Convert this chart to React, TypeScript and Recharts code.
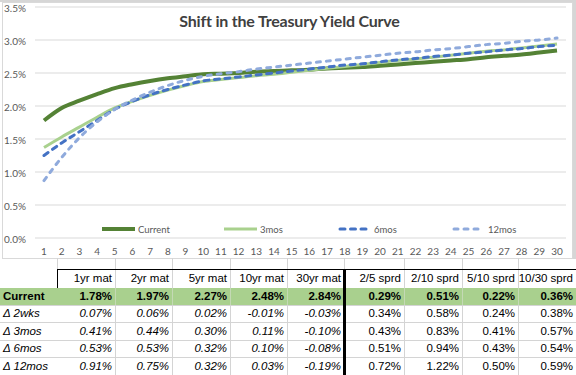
import { LineChart, Line, XAxis, YAxis, CartesianGrid } from "recharts"

// maturity in years
const years = [1, 2, 3, 4, 5, 6, 7, 8, 9, 10, 11, 12, 13, 14, 15, 16, 17, 18, 19, 20, 21, 22, 23, 24, 25, 26, 27, 28, 29, 30]

const current = [1.78, 1.97, 2.08, 2.18, 2.27, 2.33, 2.38, 2.42, 2.45, 2.48, 2.49, 2.5, 2.52, 2.53, 2.54, 2.55, 2.57, 2.58, 2.59, 2.61, 2.63, 2.65, 2.67, 2.69, 2.71, 2.74, 2.76, 2.78, 2.81, 2.84]
const mos3 = [1.37, 1.53, 1.68, 1.83, 1.97, 2.07, 2.16, 2.24, 2.31, 2.37, 2.4, 2.43, 2.46, 2.48, 2.51, 2.54, 2.57, 2.6, 2.63, 2.66, 2.69, 2.71, 2.74, 2.77, 2.8, 2.83, 2.85, 2.88, 2.91, 2.94]
const mos6 = [1.25, 1.44, 1.61, 1.78, 1.95, 2.07, 2.17, 2.25, 2.32, 2.38, 2.41, 2.44, 2.47, 2.5, 2.53, 2.56, 2.59, 2.62, 2.64, 2.67, 2.7, 2.72, 2.75, 2.77, 2.8, 2.82, 2.85, 2.87, 2.9, 2.92]
const mos12 = [0.87, 1.22, 1.52, 1.76, 1.95, 2.09, 2.21, 2.31, 2.39, 2.45, 2.49, 2.52, 2.56, 2.59, 2.62, 2.65, 2.68, 2.71, 2.74, 2.77, 2.8, 2.82, 2.85, 2.87, 2.9, 2.93, 2.95, 2.98, 3.0, 3.03]

const yTicks = [0, 0.5, 1, 1.5, 2, 2.5, 3, 3.5]

const series = [
  { key: "current", name: "Current", color: "#548235", width: 4, dash: undefined as string | undefined, cap: "butt" },
  { key: "mos3", name: "3mos", color: "#a9d18e", width: 3, dash: undefined as string | undefined, cap: "butt" },
  { key: "mos6", name: "6mos", color: "#4472c4", width: 3, dash: "5 5.5", cap: "round" },
  { key: "mos12", name: "12mos", color: "#8faadc", width: 3, dash: "4 6", cap: "round" },
]

// table below the chart
const tableHeaders = ["", "1yr mat", "2yr mat", "5yr mat", "10yr mat", "30yr mat", "2/5 sprd", "2/10 sprd", "5/10 sprd", "10/30 sprd"]
const rowLabels = ["Current", "Δ 2wks", "Δ 3mos", "Δ 6mos", "Δ 12mos"]
const currentVals = ["1.78%", "1.97%", "2.27%", "2.48%", "2.84%", "0.29%", "0.51%", "0.22%", "0.36%"]
const wks2Vals = ["0.07%", "0.06%", "0.02%", "-0.01%", "-0.03%", "0.34%", "0.58%", "0.24%", "0.38%"]
const mos3Vals = ["0.41%", "0.44%", "0.30%", "0.11%", "-0.10%", "0.43%", "0.83%", "0.41%", "0.57%"]
const mos6Vals = ["0.53%", "0.53%", "0.32%", "0.10%", "-0.08%", "0.51%", "0.94%", "0.43%", "0.54%"]
const mos12Vals = ["0.91%", "0.75%", "0.32%", "0.03%", "-0.19%", "0.72%", "1.22%", "0.50%", "0.59%"]
const tableRows = [currentVals, wks2Vals, mos3Vals, mos6Vals, mos12Vals]

const data = years.map((y, i) => ({
  year: y,
  current: current[i],
  mos3: mos3[i],
  mos6: mos6[i],
  mos12: mos12[i],
}))

const colEdges = [0, 57, 115, 172, 230, 287, 344, 404, 462, 518, 576]
const rowEdges = [258, 269, 288, 305, 322, 340, 357, 375]
const legendX = [99, 221, 335, 449]

const axisFont = { fill: "#595959", fontSize: 10, fontFamily: "Lato" }

const YTick = (props: any) => {
  const { x, y, payload } = props
  return (
    <text x={x} y={y} dy={4.6} textAnchor="end" fill="#595959" fontSize={10} fontFamily="Lato">
      {payload.value.toFixed(1) + "%"}
    </text>
  )
}

const Legend = () => (
  <>
    {series.map((s, i) => (
      <div
        key={s.key}
        style={{ position: "absolute", left: legendX[i], top: 219, height: 14, display: "flex", alignItems: "center" }}
      >
        <svg width={33} height={8}>
          <line
            x1={s.cap === "round" ? 2 : 0}
            y1={4}
            x2={s.cap === "round" ? 31 : 33}
            y2={4}
            stroke={s.color}
            strokeWidth={s.width}
            strokeDasharray={s.dash}
            strokeLinecap={s.cap as any}
          />
        </svg>
        <span style={{ marginLeft: 3, fontFamily: "Lato", fontSize: 9.5, color: "#595959" }}>{s.name}</span>
      </div>
    ))}
  </>
)

const Table = () => {
  const cells: any[] = []
  // gray sheet gridlines
  for (let c = 1; c < colEdges.length - 1; c++) {
    const top = rowEdges[0]
    const bottom = c === 1 ? rowEdges[2] : rowEdges[7]
    cells.push(
      <div key={"v" + c} style={{ position: "absolute", left: colEdges[c], top, width: 1, height: bottom - top, background: "#d4d4d4" }} />
    )
  }
  for (let r = 3; r < rowEdges.length - 1; r++) {
    cells.push(
      <div key={"h" + r} style={{ position: "absolute", left: 0, top: rowEdges[r], width: 576, height: 1, background: "#d4d4d4" }} />
    )
  }
  // green current row
  cells.push(
    <div key="green" style={{ position: "absolute", left: 0, top: rowEdges[2], width: 576, height: rowEdges[3] - rowEdges[2], background: "#a9d08e" }} />
  )
  for (let c = 2; c < colEdges.length - 1; c++) {
    if (c === 6) continue
    cells.push(
      <div key={"gv" + c} style={{ position: "absolute", left: colEdges[c], top: rowEdges[2], width: 1, height: rowEdges[3] - rowEdges[2], background: "#c4d9b5" }} />
    )
  }
  // header box lines
  cells.push(<div key="hb" style={{ position: "absolute", left: 57, top: rowEdges[1], width: 519, height: 1, background: "#000" }} />)
  cells.push(<div key="hl" style={{ position: "absolute", left: 57, top: rowEdges[1], width: 1, height: rowEdges[2] - rowEdges[1], background: "#000" }} />)
  cells.push(<div key="thick" style={{ position: "absolute", left: 343, top: rowEdges[1], width: 3, height: 375 - rowEdges[1], background: "#000" }} />)

  const text = (key: string, s: string, c: number, r: number, style: any) =>
    cells.push(
      <div
        key={key}
        style={{
          position: "absolute",
          left: colEdges[c],
          top: rowEdges[r],
          width: colEdges[c + 1] - colEdges[c] - 3,
          height: rowEdges[r + 1] - rowEdges[r],
          lineHeight: rowEdges[r + 1] - rowEdges[r] + "px",
          textAlign: c === 0 ? "left" : "right",
          paddingLeft: c === 0 ? 3 : 0,
          whiteSpace: "nowrap",
          fontSize: 11.5,
          color: "#000",
          ...style,
        }}
      >
        {s}
      </div>
    )

  tableHeaders.forEach((h, c) => {
    if (h) text("th" + c, h, c, 1, { textAlign: "right", overflow: "visible" })
  })
  rowLabels.forEach((label, i) => {
    const r = i + 2
    const isCur = i === 0
    text("rl" + i, label, 0, r, { fontWeight: isCur ? 700 : 400, fontStyle: isCur ? "normal" : "italic" })
    tableRows[i].forEach((v, j) => {
      const c = j + 1
      text("c" + i + "_" + j, v, c, r, {
        fontWeight: isCur ? 700 : 400,
        fontStyle: !isCur && c <= 5 ? "italic" : "normal",
      })
    })
  })
  return <>{cells}</>
}

export default function App() {
  return (
    <div
      style={{
        position: "absolute",
        left: 0,
        top: 0,
        width: 576,
        height: 375,
        background: "#fff",
        overflow: "hidden",
        fontFamily: "'Liberation Sans', Arial, sans-serif",
      }}
    >
      <div style={{ position: "absolute", left: 0, top: 0, width: 576, height: 2, background: "#d6d6d6" }} />
      <div style={{ position: "absolute", left: 572, top: 0, width: 4, height: 259, background: "#d6d6d6" }} />
      <div
        style={{
          position: "absolute",
          left: 2,
          top: 2,
          width: 571,
          height: 257,
          border: "1px solid #d9d9d9",
          boxSizing: "border-box",
          background: "#fff",
        }}
      >
        <div
          style={{
            position: "absolute",
            left: 0,
            width: 569,
            top: 8,
            textAlign: "center",
            fontFamily: "Lato",
            fontWeight: 700,
            fontSize: 16,
            letterSpacing: -0.2,
            color: "#404040",
            paddingLeft: 2,
          }}
        >
          Shift in the Treasury Yield Curve
        </div>
        <LineChart
          width={568}
          height={254}
          data={data}
          margin={{ top: 4, right: 5, left: 0, bottom: 0 }}
          style={{ overflow: "visible" }}
        >
          <CartesianGrid vertical={false} stroke="#d9d9d9" />
          <XAxis
            dataKey="year"
            interval={0}
            padding={{ left: 9, right: 9 }}
            axisLine={false}
            tickLine={false}
            tickSize={0}
            tickMargin={10}
            height={19}
            tick={axisFont}
          />
          <YAxis
            domain={[0, 3.5]}
            ticks={yTicks}
            interval={0}
            axisLine={false}
            tickLine={false}
            tickSize={0}
            tickMargin={9}
            width={32}
            tick={<YTick />}
          />
          {series.map((s) => (
            <Line
              key={s.key}
              type="monotone"
              dataKey={s.key}
              name={s.name}
              stroke={s.color}
              strokeWidth={s.width}
              strokeDasharray={s.dash}
              strokeLinecap={s.cap as any}
              dot={false}
              activeDot={false}
              isAnimationActive={false}
            />
          ))}
        </LineChart>
        <Legend />
      </div>
      <Table />
    </div>
  )
}
